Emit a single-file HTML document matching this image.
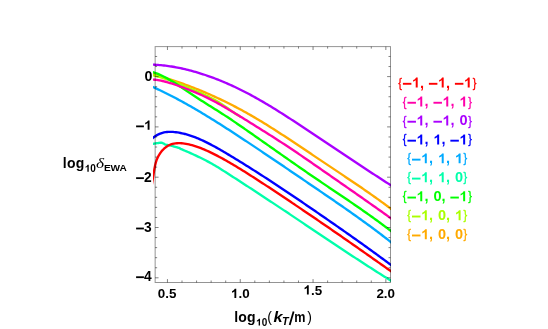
<!DOCTYPE html>
<html><head><meta charset="utf-8"><title>plot</title>
<style>
html,body{margin:0;padding:0;background:#fff;}
body{width:548px;height:329px;overflow:hidden;}
svg{display:block;}
text{font-family:"Liberation Sans",sans-serif;font-weight:bold;fill:#000;}
.r{font-weight:normal;}
.bi{font-style:italic;}
.it{font-family:"Liberation Serif",serif;font-style:italic;font-weight:normal;}
</style></head><body>
<svg width="548" height="329" viewBox="0 0 548 329">
<rect width="548" height="329" fill="#fff"/>
<defs><clipPath id="cp"><rect x="153.10" y="40" width="237.90" height="250"/></clipPath></defs>
<g clip-path="url(#cp)" fill="none" stroke-width="2.35" stroke-linejoin="round">
<path d="M150.50 73.07L152.00 73.54L153.50 74.00L155.00 74.47L156.50 74.94L158.00 75.41L159.50 75.88L161.00 76.36L162.50 76.84L164.00 77.32L165.50 77.81L167.00 78.29L168.50 78.78L170.00 79.28L171.50 79.78L173.00 80.28L174.50 80.79L176.00 81.30L177.50 81.82L179.00 82.34L180.50 82.87L182.00 83.41L183.50 83.95L185.00 84.49L186.50 85.04L188.00 85.60L189.50 86.17L191.00 86.74L192.50 87.32L194.00 87.90L195.50 88.49L197.00 89.09L198.50 89.70L200.00 90.31L201.50 90.93L203.00 91.56L204.50 92.19L206.00 92.83L207.50 93.47L209.00 94.13L210.50 94.79L212.00 95.46L213.50 96.13L215.00 96.81L216.50 97.50L218.00 98.20L219.50 98.90L221.00 99.61L222.50 100.33L224.00 101.06L225.50 101.79L227.00 102.53L228.50 103.28L230.00 104.03L231.50 104.80L233.00 105.56L234.50 106.34L236.00 107.13L237.50 107.92L239.00 108.72L240.50 109.53L242.00 110.34L243.50 111.16L245.00 111.99L246.50 112.83L248.00 113.68L249.50 114.53L251.00 115.39L252.50 116.26L254.00 117.13L255.50 118.02L257.00 118.91L258.50 119.80L260.00 120.70L261.50 121.61L263.00 122.53L264.50 123.45L266.00 124.37L267.50 125.30L269.00 126.24L270.50 127.18L272.00 128.13L273.50 129.08L275.00 130.03L276.50 130.99L278.00 131.96L279.50 132.92L281.00 133.90L282.50 134.87L284.00 135.85L285.50 136.83L287.00 137.82L288.50 138.80L290.00 139.80L291.50 140.79L293.00 141.78L294.50 142.78L296.00 143.78L297.50 144.78L299.00 145.78L300.50 146.79L302.00 147.79L303.50 148.80L305.00 149.81L306.50 150.81L308.00 151.82L309.50 152.83L311.00 153.84L312.50 154.85L314.00 155.86L315.50 156.86L317.00 157.87L318.50 158.88L320.00 159.88L321.50 160.88L323.00 161.89L324.50 162.89L326.00 163.89L327.50 164.89L329.00 165.89L330.50 166.89L332.00 167.89L333.50 168.89L335.00 169.89L336.50 170.89L338.00 171.89L339.50 172.89L341.00 173.89L342.50 174.89L344.00 175.90L345.50 176.90L347.00 177.91L348.50 178.92L350.00 179.93L351.50 180.94L353.00 181.95L354.50 182.97L356.00 183.99L357.50 185.01L359.00 186.03L360.50 187.06L362.00 188.09L363.50 189.12L365.00 190.16L366.50 191.20L368.00 192.24L369.50 193.29L371.00 194.34L372.50 195.40L374.00 196.46L375.50 197.52L377.00 198.59L378.50 199.66L380.00 200.74L381.50 201.83L383.00 202.92L384.50 204.01L386.00 205.11L387.50 206.22L389.00 207.33L390.50 208.45L392.00 209.57" stroke="#ffaa00"/>
<path d="M150.50 74.79L152.00 75.08L153.50 75.40L155.00 75.75L156.50 76.12L158.00 76.51L159.50 76.93L161.00 77.37L162.50 77.83L164.00 78.30L165.50 78.79L167.00 79.30L168.50 79.82L170.00 80.36L171.50 80.90L173.00 81.46L174.50 82.02L176.00 82.59L177.50 83.18L179.00 83.78L180.50 84.40L182.00 85.04L183.50 85.71L185.00 86.40L186.50 87.08L188.00 87.74L189.50 88.38L191.00 88.99L192.50 89.59L194.00 90.20L195.50 90.81L197.00 91.43L198.50 92.06L200.00 92.71L201.50 93.37L203.00 94.05L204.50 94.74L206.00 95.45L207.50 96.18L209.00 96.93L210.50 97.69L212.00 98.48L213.50 99.30L215.00 100.13L216.50 100.99L218.00 101.88L219.50 102.79L221.00 103.73L222.50 104.71L224.00 105.71L225.50 106.73L227.00 107.77L228.50 108.82L230.00 109.86L231.50 110.91L233.00 111.94L234.50 112.95L236.00 113.94L237.50 114.90L239.00 115.84L240.50 116.76" stroke="#aaff00"/>
<path d="M150.50 71.57L152.00 71.94L153.50 72.36L155.00 72.84L156.50 73.37L158.00 73.95L159.50 74.58L161.00 75.25L162.50 75.97L164.00 76.72L165.50 77.51L167.00 78.33L168.50 79.18L170.00 80.06L171.50 80.95L173.00 81.87L174.50 82.81L176.00 83.76L177.50 84.72L179.00 85.69L180.50 86.67L182.00 87.66L183.50 88.66L185.00 89.66L186.50 90.67L188.00 91.68L189.50 92.69L191.00 93.70L192.50 94.70L194.00 95.71L195.50 96.71L197.00 97.70L198.50 98.69L200.00 99.67L201.50 100.64L203.00 101.61L204.50 102.56L206.00 103.51L207.50 104.46L209.00 105.40L210.50 106.34L212.00 107.27L213.50 108.21L215.00 109.15L216.50 110.09L218.00 111.04L219.50 111.99L221.00 112.94L222.50 113.91L224.00 114.88L225.50 115.86L227.00 116.84L228.50 117.83L230.00 118.83L231.50 119.84L233.00 120.85L234.50 121.87L236.00 122.89L237.50 123.92L239.00 124.95L240.50 125.98L242.00 127.02L243.50 128.06L245.00 129.10L246.50 130.14L248.00 131.19L249.50 132.24L251.00 133.28L252.50 134.33L254.00 135.38L255.50 136.43L257.00 137.48L258.50 138.54L260.00 139.59L261.50 140.64L263.00 141.70L264.50 142.75L266.00 143.80L267.50 144.86L269.00 145.91L270.50 146.97L272.00 148.02L273.50 149.08L275.00 150.14L276.50 151.19L278.00 152.24L279.50 153.30L281.00 154.35L282.50 155.41L284.00 156.46L285.50 157.51L287.00 158.56L288.50 159.61L290.00 160.66L291.50 161.71L293.00 162.76L294.50 163.80L296.00 164.85L297.50 165.89L299.00 166.93L300.50 167.98L302.00 169.01L303.50 170.05L305.00 171.09L306.50 172.12L308.00 173.16L309.50 174.19L311.00 175.21L312.50 176.24L314.00 177.27L315.50 178.29L317.00 179.31L318.50 180.33L320.00 181.34L321.50 182.36L323.00 183.37L324.50 184.38L326.00 185.39L327.50 186.40L329.00 187.42L330.50 188.42L332.00 189.43L333.50 190.44L335.00 191.45L336.50 192.46L338.00 193.47L339.50 194.49L341.00 195.50L342.50 196.51L344.00 197.53L345.50 198.54L347.00 199.56L348.50 200.58L350.00 201.60L351.50 202.63L353.00 203.65L354.50 204.68L356.00 205.72L357.50 206.75L359.00 207.79L360.50 208.83L362.00 209.88L363.50 210.92L365.00 211.98L366.50 213.04L368.00 214.10L369.50 215.16L371.00 216.23L372.50 217.31L374.00 218.39L375.50 219.48L377.00 220.57L378.50 221.66L380.00 222.77L381.50 223.88L383.00 224.99L384.50 226.11L386.00 227.24L387.50 228.38L389.00 229.52L390.50 230.67L392.00 231.82" stroke="#00ff00"/>
<path d="M150.50 144.30L151.00 144.21L151.50 144.13L152.00 144.04L152.50 143.95L153.00 143.87L153.50 143.78L154.00 143.70L154.50 143.61L155.00 143.52L155.50 143.44L156.00 143.36L156.50 143.28L157.00 143.20L157.50 143.12L158.00 143.05L158.50 142.98L159.00 142.91L159.50 142.85L160.00 142.78L160.50 142.72L161.00 142.70L161.50 142.75L162.00 142.85L162.50 143.00L163.00 143.23L163.50 143.50L164.00 143.79L164.50 144.11L165.00 144.35L165.50 144.52L166.00 144.66L166.50 144.78L167.00 144.89L167.50 144.99L168.00 145.10L168.50 145.21L169.00 145.30L169.50 145.40L170.00 145.49L170.50 145.59L171.00 145.69L171.50 145.80L172.00 145.93L172.50 146.07L173.00 146.22L173.50 146.37L174.00 146.53L174.50 146.68L175.00 146.83L175.50 146.97L176.00 147.10L176.50 147.23L177.00 147.37L177.50 147.50L178.00 147.65L178.50 147.80L179.00 147.97L179.50 148.15L180.00 148.34L180.50 148.85L182.00 149.46L183.50 150.09L185.00 150.73L186.50 151.38L188.00 152.04L189.50 152.70L191.00 153.37L192.50 154.04L194.00 154.72L195.50 155.41L197.00 156.11L198.50 156.82L200.00 157.54L201.50 158.27L203.00 159.02L204.50 159.78L206.00 160.55L207.50 161.34L209.00 162.15L210.50 162.97L212.00 163.81L213.50 164.68L215.00 165.56L216.50 166.45L218.00 167.36L219.50 168.29L221.00 169.22L222.50 170.17L224.00 171.12L225.50 172.08L227.00 173.04L228.50 174.00L230.00 174.97L231.50 175.94L233.00 176.90L234.50 177.87L236.00 178.84L237.50 179.81L239.00 180.78L240.50 181.76L242.00 182.73L243.50 183.71L245.00 184.68L246.50 185.66L248.00 186.63L249.50 187.61L251.00 188.59L252.50 189.57L254.00 190.55L255.50 191.53L257.00 192.52L258.50 193.50L260.00 194.48L261.50 195.47L263.00 196.46L264.50 197.44L266.00 198.43L267.50 199.42L269.00 200.41L270.50 201.40L272.00 202.39L273.50 203.38L275.00 204.38L276.50 205.37L278.00 206.37L279.50 207.36L281.00 208.36L282.50 209.36L284.00 210.36L285.50 211.35L287.00 212.35L288.50 213.35L290.00 214.36L291.50 215.36L293.00 216.36L294.50 217.37L296.00 218.37L297.50 219.37L299.00 220.38L300.50 221.38L302.00 222.39L303.50 223.40L305.00 224.40L306.50 225.41L308.00 226.41L309.50 227.42L311.00 228.43L312.50 229.43L314.00 230.44L315.50 231.45L317.00 232.45L318.50 233.46L320.00 234.46L321.50 235.47L323.00 236.47L324.50 237.48L326.00 238.48L327.50 239.49L329.00 240.49L330.50 241.49L332.00 242.49L333.50 243.49L335.00 244.49L336.50 245.49L338.00 246.49L339.50 247.48L341.00 248.48L342.50 249.47L344.00 250.47L345.50 251.46L347.00 252.45L348.50 253.44L350.00 254.43L351.50 255.42L353.00 256.40L354.50 257.38L356.00 258.37L357.50 259.35L359.00 260.33L360.50 261.30L362.00 262.28L363.50 263.25L365.00 264.22L366.50 265.19L368.00 266.16L369.50 267.13L371.00 268.09L372.50 269.05L374.00 270.01L375.50 270.97L377.00 271.92L378.50 272.87L380.00 273.82L381.50 274.77L383.00 275.72L384.50 276.66L386.00 277.60L387.50 278.54L389.00 279.47L390.50 280.40L392.00 281.33" stroke="#00ffaa"/>
<path d="M150.50 85.93L152.00 86.59L153.50 87.26L155.00 87.94L156.50 88.63L158.00 89.33L159.50 90.03L161.00 90.75L162.50 91.47L164.00 92.20L165.50 92.94L167.00 93.68L168.50 94.44L170.00 95.20L171.50 95.97L173.00 96.75L174.50 97.53L176.00 98.32L177.50 99.12L179.00 99.93L180.50 100.74L182.00 101.56L183.50 102.38L185.00 103.21L186.50 104.05L188.00 104.90L189.50 105.75L191.00 106.60L192.50 107.46L194.00 108.33L195.50 109.21L197.00 110.09L198.50 110.97L200.00 111.86L201.50 112.75L203.00 113.65L204.50 114.56L206.00 115.47L207.50 116.38L209.00 117.30L210.50 118.22L212.00 119.15L213.50 120.08L215.00 121.02L216.50 121.96L218.00 122.90L219.50 123.85L221.00 124.80L222.50 125.75L224.00 126.71L225.50 127.67L227.00 128.64L228.50 129.60L230.00 130.57L231.50 131.54L233.00 132.52L234.50 133.50L236.00 134.48L237.50 135.46L239.00 136.44L240.50 137.43L242.00 138.42L243.50 139.41L245.00 140.40L246.50 141.39L248.00 142.39L249.50 143.38L251.00 144.38L252.50 145.38L254.00 146.38L255.50 147.38L257.00 148.38L258.50 149.39L260.00 150.39L261.50 151.40L263.00 152.40L264.50 153.41L266.00 154.42L267.50 155.43L269.00 156.44L270.50 157.45L272.00 158.46L273.50 159.48L275.00 160.49L276.50 161.50L278.00 162.52L279.50 163.53L281.00 164.55L282.50 165.57L284.00 166.59L285.50 167.60L287.00 168.62L288.50 169.64L290.00 170.66L291.50 171.68L293.00 172.70L294.50 173.72L296.00 174.75L297.50 175.77L299.00 176.79L300.50 177.81L302.00 178.83L303.50 179.86L305.00 180.88L306.50 181.90L308.00 182.92L309.50 183.95L311.00 184.97L312.50 185.99L314.00 187.01L315.50 188.04L317.00 189.06L318.50 190.08L320.00 191.10L321.50 192.13L323.00 193.15L324.50 194.18L326.00 195.20L327.50 196.23L329.00 197.25L330.50 198.28L332.00 199.31L333.50 200.34L335.00 201.37L336.50 202.41L338.00 203.44L339.50 204.48L341.00 205.52L342.50 206.56L344.00 207.61L345.50 208.65L347.00 209.70L348.50 210.75L350.00 211.81L351.50 212.87L353.00 213.93L354.50 214.99L356.00 216.06L357.50 217.13L359.00 218.20L360.50 219.28L362.00 220.36L363.50 221.44L365.00 222.53L366.50 223.63L368.00 224.72L369.50 225.82L371.00 226.93L372.50 228.04L374.00 229.16L375.50 230.28L377.00 231.40L378.50 232.54L380.00 233.67L381.50 234.81L383.00 235.96L384.50 237.11L386.00 238.27L387.50 239.44L389.00 240.61L390.50 241.78L392.00 242.97" stroke="#00aaff"/>
<path d="M150.50 140.08L152.00 138.68L153.50 137.44L155.00 136.35L156.50 135.40L158.00 134.58L159.50 133.88L161.00 133.30L162.50 132.83L164.00 132.46L165.50 132.19L167.00 132.00L168.50 131.89L170.00 131.85L171.50 131.87L173.00 131.95L174.50 132.08L176.00 132.25L177.50 132.45L179.00 132.69L180.50 132.97L182.00 133.28L183.50 133.62L185.00 133.99L186.50 134.40L188.00 134.84L189.50 135.30L191.00 135.80L192.50 136.32L194.00 136.87L195.50 137.45L197.00 138.04L198.50 138.67L200.00 139.31L201.50 139.98L203.00 140.67L204.50 141.38L206.00 142.10L207.50 142.85L209.00 143.61L210.50 144.39L212.00 145.18L213.50 145.99L215.00 146.81L216.50 147.64L218.00 148.48L219.50 149.34L221.00 150.20L222.50 151.07L224.00 151.95L225.50 152.83L227.00 153.73L228.50 154.62L230.00 155.52L231.50 156.42L233.00 157.33L234.50 158.24L236.00 159.15L237.50 160.07L239.00 160.99L240.50 161.91L242.00 162.84L243.50 163.77L245.00 164.70L246.50 165.64L248.00 166.58L249.50 167.52L251.00 168.47L252.50 169.41L254.00 170.37L255.50 171.32L257.00 172.28L258.50 173.24L260.00 174.20L261.50 175.17L263.00 176.13L264.50 177.11L266.00 178.08L267.50 179.06L269.00 180.03L270.50 181.01L272.00 182.00L273.50 182.98L275.00 183.97L276.50 184.96L278.00 185.95L279.50 186.95L281.00 187.94L282.50 188.94L284.00 189.94L285.50 190.95L287.00 191.95L288.50 192.96L290.00 193.96L291.50 194.97L293.00 195.99L294.50 197.00L296.00 198.01L297.50 199.03L299.00 200.05L300.50 201.07L302.00 202.09L303.50 203.11L305.00 204.13L306.50 205.16L308.00 206.18L309.50 207.21L311.00 208.24L312.50 209.27L314.00 210.30L315.50 211.33L317.00 212.36L318.50 213.39L320.00 214.43L321.50 215.46L323.00 216.50L324.50 217.53L326.00 218.57L327.50 219.61L329.00 220.65L330.50 221.69L332.00 222.73L333.50 223.77L335.00 224.81L336.50 225.85L338.00 226.90L339.50 227.94L341.00 228.99L342.50 230.04L344.00 231.09L345.50 232.14L347.00 233.19L348.50 234.25L350.00 235.30L351.50 236.36L353.00 237.42L354.50 238.48L356.00 239.54L357.50 240.61L359.00 241.67L360.50 242.74L362.00 243.81L363.50 244.88L365.00 245.96L366.50 247.04L368.00 248.11L369.50 249.20L371.00 250.28L372.50 251.36L374.00 252.45L375.50 253.54L377.00 254.64L378.50 255.73L380.00 256.83L381.50 257.93L383.00 259.04L384.50 260.14L386.00 261.25L387.50 262.36L389.00 263.48L390.50 264.60L392.00 265.72" stroke="#0000ff"/>
<path d="M150.50 64.55L152.00 64.60L153.50 64.66L155.00 64.74L156.50 64.83L158.00 64.94L159.50 65.06L161.00 65.19L162.50 65.34L164.00 65.51L165.50 65.68L167.00 65.87L168.50 66.08L170.00 66.30L171.50 66.53L173.00 66.78L174.50 67.03L176.00 67.31L177.50 67.59L179.00 67.89L180.50 68.20L182.00 68.52L183.50 68.85L185.00 69.20L186.50 69.56L188.00 69.93L189.50 70.31L191.00 70.70L192.50 71.11L194.00 71.53L195.50 71.95L197.00 72.39L198.50 72.84L200.00 73.31L201.50 73.78L203.00 74.26L204.50 74.75L206.00 75.26L207.50 75.77L209.00 76.30L210.50 76.83L212.00 77.38L213.50 77.93L215.00 78.50L216.50 79.08L218.00 79.66L219.50 80.26L221.00 80.87L222.50 81.49L224.00 82.12L225.50 82.75L227.00 83.40L228.50 84.06L230.00 84.73L231.50 85.41L233.00 86.10L234.50 86.80L236.00 87.51L237.50 88.22L239.00 88.95L240.50 89.69L242.00 90.44L243.50 91.20L245.00 91.97L246.50 92.74L248.00 93.53L249.50 94.33L251.00 95.13L252.50 95.95L254.00 96.77L255.50 97.60L257.00 98.44L258.50 99.29L260.00 100.15L261.50 101.02L263.00 101.89L264.50 102.77L266.00 103.66L267.50 104.55L269.00 105.45L270.50 106.36L272.00 107.27L273.50 108.19L275.00 109.11L276.50 110.05L278.00 110.98L279.50 111.92L281.00 112.87L282.50 113.82L284.00 114.77L285.50 115.73L287.00 116.70L288.50 117.66L290.00 118.63L291.50 119.61L293.00 120.59L294.50 121.57L296.00 122.55L297.50 123.53L299.00 124.52L300.50 125.51L302.00 126.50L303.50 127.50L305.00 128.49L306.50 129.49L308.00 130.48L309.50 131.48L311.00 132.48L312.50 133.48L314.00 134.48L315.50 135.48L317.00 136.48L318.50 137.48L320.00 138.48L321.50 139.48L323.00 140.48L324.50 141.49L326.00 142.49L327.50 143.49L329.00 144.50L330.50 145.50L332.00 146.50L333.50 147.51L335.00 148.51L336.50 149.51L338.00 150.52L339.50 151.52L341.00 152.52L342.50 153.52L344.00 154.53L345.50 155.53L347.00 156.53L348.50 157.53L350.00 158.53L351.50 159.53L353.00 160.52L354.50 161.52L356.00 162.52L357.50 163.51L359.00 164.51L360.50 165.50L362.00 166.49L363.50 167.48L365.00 168.47L366.50 169.46L368.00 170.45L369.50 171.43L371.00 172.42L372.50 173.40L374.00 174.38L375.50 175.36L377.00 176.34L378.50 177.32L380.00 178.29L381.50 179.26L383.00 180.23L384.50 181.20L386.00 182.17L387.50 183.13L389.00 184.10L390.50 185.06L392.00 186.02" stroke="#aa00ff"/>
<path d="M150.50 79.51L152.00 79.55L153.50 79.64L155.00 79.77L156.50 79.94L158.00 80.16L159.50 80.41L161.00 80.69L162.50 81.01L164.00 81.36L165.50 81.74L167.00 82.14L168.50 82.57L170.00 83.02L171.50 83.49L173.00 83.97L174.50 84.48L176.00 84.99L177.50 85.51L179.00 86.05L180.50 86.59L182.00 87.14L183.50 87.71L185.00 88.27L186.50 88.85L188.00 89.43L189.50 90.01L191.00 90.60L192.50 91.20L194.00 91.81L195.50 92.43L197.00 93.07L198.50 93.71L200.00 94.37L201.50 95.05L203.00 95.74L204.50 96.45L206.00 97.17L207.50 97.90L209.00 98.65L210.50 99.41L212.00 100.19L213.50 100.98L215.00 101.77L216.50 102.58L218.00 103.40L219.50 104.23L221.00 105.07L222.50 105.92L224.00 106.78L225.50 107.64L227.00 108.52L228.50 109.40L230.00 110.28L231.50 111.18L233.00 112.08L234.50 112.98L236.00 113.89L237.50 114.80L239.00 115.72L240.50 116.64L242.00 117.57L243.50 118.49L245.00 119.42L246.50 120.35L248.00 121.28L249.50 122.21L251.00 123.14L252.50 124.08L254.00 125.01L255.50 125.94L257.00 126.88L258.50 127.82L260.00 128.76L261.50 129.70L263.00 130.64L264.50 131.58L266.00 132.53L267.50 133.48L269.00 134.43L270.50 135.38L272.00 136.34L273.50 137.30L275.00 138.26L276.50 139.22L278.00 140.19L279.50 141.16L281.00 142.13L282.50 143.11L284.00 144.09L285.50 145.07L287.00 146.06L288.50 147.05L290.00 148.05L291.50 149.05L293.00 150.05L294.50 151.06L296.00 152.07L297.50 153.08L299.00 154.10L300.50 155.12L302.00 156.14L303.50 157.17L305.00 158.20L306.50 159.23L308.00 160.27L309.50 161.30L311.00 162.34L312.50 163.38L314.00 164.43L315.50 165.47L317.00 166.51L318.50 167.55L320.00 168.59L321.50 169.63L323.00 170.67L324.50 171.71L326.00 172.75L327.50 173.79L329.00 174.83L330.50 175.88L332.00 176.92L333.50 177.96L335.00 179.00L336.50 180.04L338.00 181.08L339.50 182.13L341.00 183.17L342.50 184.21L344.00 185.26L345.50 186.30L347.00 187.35L348.50 188.39L350.00 189.44L351.50 190.49L353.00 191.53L354.50 192.58L356.00 193.63L357.50 194.68L359.00 195.73L360.50 196.78L362.00 197.83L363.50 198.88L365.00 199.94L366.50 200.99L368.00 202.04L369.50 203.10L371.00 204.16L372.50 205.21L374.00 206.27L375.50 207.33L377.00 208.39L378.50 209.46L380.00 210.52L381.50 211.58L383.00 212.65L384.50 213.72L386.00 214.78L387.50 215.85L389.00 216.93L390.50 218.00L392.00 219.07" stroke="#ff00aa"/>
<path d="M151.40 187.63L151.60 186.23L151.80 184.96L152.00 183.74L152.20 182.55L152.40 181.37L152.60 180.17L152.80 178.96L153.00 177.72L153.20 176.47L153.40 175.20L153.60 173.92L153.80 172.64L154.00 171.40L154.20 170.19L154.40 169.03L154.60 167.93L154.80 166.90L155.00 165.92L155.20 165.02L155.40 164.18L155.60 163.40L155.80 162.67L156.00 161.99L156.20 161.35L156.40 160.75L156.60 160.18L156.80 159.64L157.00 159.13L157.20 158.65L157.40 158.18L157.60 157.74L157.80 157.32L158.00 156.91L158.20 156.52L158.40 156.14L158.60 155.78L158.80 155.42L159.00 155.08L159.20 154.75L159.40 154.42L159.60 154.11L159.80 153.80L160.00 153.50L160.20 153.21L160.40 152.92L160.60 152.64L160.80 152.36L161.00 152.09L161.20 151.83L161.40 151.57L161.60 151.32L161.80 151.07L162.00 150.83L162.20 150.60L162.40 150.37L162.60 150.15L162.80 149.93L163.00 149.71L163.20 149.51L163.40 149.30L163.60 149.10L163.80 148.91L164.00 148.72L164.20 148.53L164.40 148.35L164.60 148.18L164.80 148.01L165.00 147.84L166.50 146.71L168.00 145.78L169.50 145.03L171.00 144.43L172.50 143.97L174.00 143.63L175.50 143.39L177.00 143.24L178.50 143.17L180.00 143.18L181.50 143.26L183.00 143.39L184.50 143.58L186.00 143.82L187.50 144.10L189.00 144.42L190.50 144.78L192.00 145.18L193.50 145.61L195.00 146.07L196.50 146.57L198.00 147.09L199.50 147.64L201.00 148.22L202.50 148.82L204.00 149.44L205.50 150.08L207.00 150.75L208.50 151.43L210.00 152.13L211.50 152.85L213.00 153.59L214.50 154.34L216.00 155.11L217.50 155.89L219.00 156.68L220.50 157.49L222.00 158.30L223.50 159.13L225.00 159.97L226.50 160.82L228.00 161.68L229.50 162.55L231.00 163.42L232.50 164.31L234.00 165.20L235.50 166.10L237.00 167.00L238.50 167.91L240.00 168.83L241.50 169.76L243.00 170.69L244.50 171.62L246.00 172.56L247.50 173.51L249.00 174.46L250.50 175.41L252.00 176.37L253.50 177.33L255.00 178.29L256.50 179.26L258.00 180.23L259.50 181.20L261.00 182.18L262.50 183.16L264.00 184.14L265.50 185.13L267.00 186.11L268.50 187.10L270.00 188.09L271.50 189.08L273.00 190.08L274.50 191.07L276.00 192.07L277.50 193.06L279.00 194.06L280.50 195.06L282.00 196.07L283.50 197.07L285.00 198.07L286.50 199.07L288.00 200.08L289.50 201.08L291.00 202.09L292.50 203.10L294.00 204.10L295.50 205.11L297.00 206.12L298.50 207.13L300.00 208.14L301.50 209.15L303.00 210.17L304.50 211.18L306.00 212.20L307.50 213.21L309.00 214.23L310.50 215.25L312.00 216.27L313.50 217.29L315.00 218.31L316.50 219.33L318.00 220.36L319.50 221.38L321.00 222.41L322.50 223.44L324.00 224.47L325.50 225.49L327.00 226.52L328.50 227.56L330.00 228.59L331.50 229.62L333.00 230.66L334.50 231.69L336.00 232.73L337.50 233.77L339.00 234.80L340.50 235.84L342.00 236.88L343.50 237.92L345.00 238.97L346.50 240.01L348.00 241.05L349.50 242.10L351.00 243.14L352.50 244.19L354.00 245.24L355.50 246.29L357.00 247.33L358.50 248.38L360.00 249.43L361.50 250.49L363.00 251.54L364.50 252.59L366.00 253.64L367.50 254.70L369.00 255.75L370.50 256.81L372.00 257.86L373.50 258.92L375.00 259.98L376.50 261.03L378.00 262.09L379.50 263.15L381.00 264.21L382.50 265.27L384.00 266.33L385.50 267.39L387.00 268.45L388.50 269.52L390.00 270.58L391.50 271.64L393.00 272.71" stroke="#ff0000"/>
</g>
<g fill="none" stroke="#000" stroke-opacity="0.42" stroke-width="1">
<rect x="155.15" y="46.60" width="235.35" height="235.90"/>
</g>
<g fill="none" stroke="#000" stroke-opacity="0.55" stroke-width="0.9">
<path d="M167.45 282.50 L167.45 279.10M167.45 46.60 L167.45 50.00M182.01 282.50 L182.01 280.50M182.01 46.60 L182.01 48.60M196.57 282.50 L196.57 280.50M196.57 46.60 L196.57 48.60M211.13 282.50 L211.13 280.50M211.13 46.60 L211.13 48.60M225.69 282.50 L225.69 280.50M225.69 46.60 L225.69 48.60M240.25 282.50 L240.25 279.10M240.25 46.60 L240.25 50.00M254.81 282.50 L254.81 280.50M254.81 46.60 L254.81 48.60M269.37 282.50 L269.37 280.50M269.37 46.60 L269.37 48.60M283.93 282.50 L283.93 280.50M283.93 46.60 L283.93 48.60M298.49 282.50 L298.49 280.50M298.49 46.60 L298.49 48.60M313.05 282.50 L313.05 279.10M313.05 46.60 L313.05 50.00M327.61 282.50 L327.61 280.50M327.61 46.60 L327.61 48.60M342.17 282.50 L342.17 280.50M342.17 46.60 L342.17 48.60M356.73 282.50 L356.73 280.50M356.73 46.60 L356.73 48.60M371.29 282.50 L371.29 280.50M371.29 46.60 L371.29 48.60M385.85 282.50 L385.85 279.10M385.85 46.60 L385.85 50.00M155.15 277.80 L158.55 277.80M390.50 277.80 L387.10 277.80M155.15 267.74 L157.15 267.74M390.50 267.74 L388.50 267.74M155.15 257.68 L157.15 257.68M390.50 257.68 L388.50 257.68M155.15 247.62 L157.15 247.62M390.50 247.62 L388.50 247.62M155.15 237.56 L157.15 237.56M390.50 237.56 L388.50 237.56M155.15 227.50 L158.55 227.50M390.50 227.50 L387.10 227.50M155.15 217.44 L157.15 217.44M390.50 217.44 L388.50 217.44M155.15 207.38 L157.15 207.38M390.50 207.38 L388.50 207.38M155.15 197.32 L157.15 197.32M390.50 197.32 L388.50 197.32M155.15 187.26 L157.15 187.26M390.50 187.26 L388.50 187.26M155.15 177.20 L158.55 177.20M390.50 177.20 L387.10 177.20M155.15 167.14 L157.15 167.14M390.50 167.14 L388.50 167.14M155.15 157.08 L157.15 157.08M390.50 157.08 L388.50 157.08M155.15 147.02 L157.15 147.02M390.50 147.02 L388.50 147.02M155.15 136.96 L157.15 136.96M390.50 136.96 L388.50 136.96M155.15 126.90 L158.55 126.90M390.50 126.90 L387.10 126.90M155.15 116.84 L157.15 116.84M390.50 116.84 L388.50 116.84M155.15 106.78 L157.15 106.78M390.50 106.78 L388.50 106.78M155.15 96.72 L157.15 96.72M390.50 96.72 L388.50 96.72M155.15 86.66 L157.15 86.66M390.50 86.66 L388.50 86.66M155.15 76.60 L158.55 76.60M390.50 76.60 L387.10 76.60M155.15 66.54 L157.15 66.54M390.50 66.54 L388.50 66.54M155.15 56.48 L157.15 56.48M390.50 56.48 L388.50 56.48"/>
</g>
<g style="will-change:transform">
<text x="144.39" y="81.20" font-size="14.2">0</text>
<path d="M0.393 0L0.256 0L0.256 0.517C0.206 0.470 0.147 0.435 0.079 0.413L0.079 0.537C0.115 0.549 0.154 0.571 0.196 0.603C0.238 0.636 0.267 0.674 0.282 0.718L0.393 0.718Z" transform="translate(144.10 129.87) scale(13.800 -13.179)"/><rect x="136.1" y="125.47" width="7.8" height="1.8"/>
<text x="144.10" y="181.65" font-size="13.8">2</text><rect x="136.1" y="177.25" width="7.8" height="1.8"/>
<text x="144.10" y="232.00" font-size="13.8">3</text><rect x="136.1" y="227.60" width="7.8" height="1.8"/>
<text x="144.10" y="280.70" font-size="13.8">4</text><rect x="136.1" y="276.30" width="7.8" height="1.8"/>
<text x="157.79" y="298.00" font-size="13.4">0</text><text x="165.24" y="298.00" font-size="13.4">.</text><text x="168.96" y="298.00" font-size="13.4">5</text>
<path d="M0.393 0L0.256 0L0.256 0.517C0.206 0.470 0.147 0.435 0.079 0.413L0.079 0.537C0.115 0.549 0.154 0.571 0.196 0.603C0.238 0.636 0.267 0.674 0.282 0.718L0.393 0.718Z" transform="translate(230.99 298.00) scale(13.400 -12.797)"/><text x="238.44" y="298.00" font-size="13.4">.</text><text x="242.16" y="298.00" font-size="13.4">0</text>
<path d="M0.393 0L0.256 0L0.256 0.517C0.206 0.470 0.147 0.435 0.079 0.413L0.079 0.537C0.115 0.549 0.154 0.571 0.196 0.603C0.238 0.636 0.267 0.674 0.282 0.718L0.393 0.718Z" transform="translate(303.49 294.50) scale(13.400 -12.797)"/><text x="310.94" y="294.50" font-size="13.4">.</text><text x="314.66" y="294.50" font-size="13.4">5</text>
<text x="376.39" y="298.00" font-size="13.4">2</text><text x="383.84" y="298.00" font-size="13.4">.</text><text x="387.56" y="298.00" font-size="13.4">0</text>
<text y="167.70" font-size="14"><tspan x="62.82" letter-spacing="0.25">log</tspan></text>
<path d="M0.393 0L0.256 0L0.256 0.517C0.206 0.470 0.147 0.435 0.079 0.413L0.079 0.537C0.115 0.549 0.154 0.571 0.196 0.603C0.238 0.636 0.267 0.674 0.282 0.718L0.393 0.718Z" transform="translate(84.80 171.65) scale(10.000 -9.550)"/><text x="90.36" y="171.65" font-size="10">0</text>
<text transform="translate(96.0 168.15) scale(1.13 1)" font-size="15.3" class="it">δ</text>
<text x="103.9" y="170.70" font-size="9.5" textLength="23.0" lengthAdjust="spacingAndGlyphs">EWA</text>
<text y="321.65" font-size="14"><tspan x="234.15" letter-spacing="0.25">log</tspan></text>
<path d="M0.393 0L0.256 0L0.256 0.517C0.206 0.470 0.147 0.435 0.079 0.413L0.079 0.537C0.115 0.549 0.154 0.571 0.196 0.603C0.238 0.636 0.267 0.674 0.282 0.718L0.393 0.718Z" transform="translate(256.10 325.60) scale(10.000 -9.550)"/><text x="261.66" y="325.60" font-size="10">0</text>
<text x="267.2" y="321.65" font-size="14" class="r">(</text>
<text x="273.5" y="321.65" font-size="14" class="bi" textLength="9.1" lengthAdjust="spacingAndGlyphs">k</text>
<text x="281.9" y="324.90" font-size="10.8" class="bi">T</text>
<path d="M289.7 324.9L293.6 311.6" stroke="#000" stroke-width="1.8" fill="none"/>
<text x="294.3" y="321.65" font-size="14" textLength="11.2" lengthAdjust="spacingAndGlyphs">m</text>
<text x="307.37" y="321.65" font-size="14" class="r">)</text>
<g fill="#ff0000"><text transform="translate(398.20 86.60) scale(0.85 1)" font-size="13" class="r" style="fill:#ff0000;stroke:#ff0000;stroke-width:0.35">{</text><rect x="402.90" y="82.85" width="8.5" height="1.9"/><path d="M0.393 0L0.256 0L0.256 0.517C0.206 0.470 0.147 0.435 0.079 0.413L0.079 0.537C0.115 0.549 0.154 0.571 0.196 0.603C0.238 0.636 0.267 0.674 0.282 0.718L0.393 0.718Z" transform="translate(412.00 87.50) scale(14.500 -13.848)" fill="#ff0000"/><text x="420.00" y="87.50" font-size="14.5" style="fill:#ff0000">,</text><rect x="428.90" y="82.85" width="8.5" height="1.9"/><path d="M0.393 0L0.256 0L0.256 0.517C0.206 0.470 0.147 0.435 0.079 0.413L0.079 0.537C0.115 0.549 0.154 0.571 0.196 0.603C0.238 0.636 0.267 0.674 0.282 0.718L0.393 0.718Z" transform="translate(438.00 87.50) scale(14.500 -13.848)" fill="#ff0000"/><text x="446.00" y="87.50" font-size="14.5" style="fill:#ff0000">,</text><rect x="454.90" y="82.85" width="8.5" height="1.9"/><path d="M0.393 0L0.256 0L0.256 0.517C0.206 0.470 0.147 0.435 0.079 0.413L0.079 0.537C0.115 0.549 0.154 0.571 0.196 0.603C0.238 0.636 0.267 0.674 0.282 0.718L0.393 0.718Z" transform="translate(464.00 87.50) scale(14.500 -13.848)" fill="#ff0000"/><text transform="translate(472.70 86.60) scale(0.85 1)" font-size="13" class="r" style="fill:#ff0000;stroke:#ff0000;stroke-width:0.35">}</text></g>
<g fill="#ff00aa"><text transform="translate(402.75 105.56) scale(0.85 1)" font-size="13" class="r" style="fill:#ff00aa;stroke:#ff00aa;stroke-width:0.35">{</text><rect x="407.45" y="101.81" width="8.5" height="1.9"/><path d="M0.393 0L0.256 0L0.256 0.517C0.206 0.470 0.147 0.435 0.079 0.413L0.079 0.537C0.115 0.549 0.154 0.571 0.196 0.603C0.238 0.636 0.267 0.674 0.282 0.718L0.393 0.718Z" transform="translate(416.55 106.46) scale(14.500 -13.848)" fill="#ff00aa"/><text x="424.55" y="106.46" font-size="14.5" style="fill:#ff00aa">,</text><rect x="433.45" y="101.81" width="8.5" height="1.9"/><path d="M0.393 0L0.256 0L0.256 0.517C0.206 0.470 0.147 0.435 0.079 0.413L0.079 0.537C0.115 0.549 0.154 0.571 0.196 0.603C0.238 0.636 0.267 0.674 0.282 0.718L0.393 0.718Z" transform="translate(442.55 106.46) scale(14.500 -13.848)" fill="#ff00aa"/><text x="450.55" y="106.46" font-size="14.5" style="fill:#ff00aa">,</text><path d="M0.393 0L0.256 0L0.256 0.517C0.206 0.470 0.147 0.435 0.079 0.413L0.079 0.537C0.115 0.549 0.154 0.571 0.196 0.603C0.238 0.636 0.267 0.674 0.282 0.718L0.393 0.718Z" transform="translate(459.45 106.46) scale(14.500 -13.848)" fill="#ff00aa"/><text transform="translate(468.15 105.56) scale(0.85 1)" font-size="13" class="r" style="fill:#ff00aa;stroke:#ff00aa;stroke-width:0.35">}</text></g>
<g fill="#aa00ff"><text transform="translate(402.75 124.52) scale(0.85 1)" font-size="13" class="r" style="fill:#aa00ff;stroke:#aa00ff;stroke-width:0.35">{</text><rect x="407.45" y="120.77" width="8.5" height="1.9"/><path d="M0.393 0L0.256 0L0.256 0.517C0.206 0.470 0.147 0.435 0.079 0.413L0.079 0.537C0.115 0.549 0.154 0.571 0.196 0.603C0.238 0.636 0.267 0.674 0.282 0.718L0.393 0.718Z" transform="translate(416.55 125.42) scale(14.500 -13.848)" fill="#aa00ff"/><text x="424.55" y="125.42" font-size="14.5" style="fill:#aa00ff">,</text><rect x="433.45" y="120.77" width="8.5" height="1.9"/><path d="M0.393 0L0.256 0L0.256 0.517C0.206 0.470 0.147 0.435 0.079 0.413L0.079 0.537C0.115 0.549 0.154 0.571 0.196 0.603C0.238 0.636 0.267 0.674 0.282 0.718L0.393 0.718Z" transform="translate(442.55 125.42) scale(14.500 -13.848)" fill="#aa00ff"/><text x="450.55" y="125.42" font-size="14.5" style="fill:#aa00ff">,</text><text x="459.45" y="125.42" font-size="14.5" style="fill:#aa00ff">0</text><text transform="translate(468.15 124.52) scale(0.85 1)" font-size="13" class="r" style="fill:#aa00ff;stroke:#aa00ff;stroke-width:0.35">}</text></g>
<g fill="#0000ff"><text transform="translate(402.75 143.48) scale(0.85 1)" font-size="13" class="r" style="fill:#0000ff;stroke:#0000ff;stroke-width:0.35">{</text><rect x="407.45" y="139.73" width="8.5" height="1.9"/><path d="M0.393 0L0.256 0L0.256 0.517C0.206 0.470 0.147 0.435 0.079 0.413L0.079 0.537C0.115 0.549 0.154 0.571 0.196 0.603C0.238 0.636 0.267 0.674 0.282 0.718L0.393 0.718Z" transform="translate(416.55 144.38) scale(14.500 -13.848)" fill="#0000ff"/><text x="424.55" y="144.38" font-size="14.5" style="fill:#0000ff">,</text><path d="M0.393 0L0.256 0L0.256 0.517C0.206 0.470 0.147 0.435 0.079 0.413L0.079 0.537C0.115 0.549 0.154 0.571 0.196 0.603C0.238 0.636 0.267 0.674 0.282 0.718L0.393 0.718Z" transform="translate(433.45 144.38) scale(14.500 -13.848)" fill="#0000ff"/><text x="441.45" y="144.38" font-size="14.5" style="fill:#0000ff">,</text><rect x="450.35" y="139.73" width="8.5" height="1.9"/><path d="M0.393 0L0.256 0L0.256 0.517C0.206 0.470 0.147 0.435 0.079 0.413L0.079 0.537C0.115 0.549 0.154 0.571 0.196 0.603C0.238 0.636 0.267 0.674 0.282 0.718L0.393 0.718Z" transform="translate(459.45 144.38) scale(14.500 -13.848)" fill="#0000ff"/><text transform="translate(468.15 143.48) scale(0.85 1)" font-size="13" class="r" style="fill:#0000ff;stroke:#0000ff;stroke-width:0.35">}</text></g>
<g fill="#00aaff"><text transform="translate(407.30 162.44) scale(0.85 1)" font-size="13" class="r" style="fill:#00aaff;stroke:#00aaff;stroke-width:0.35">{</text><rect x="412.00" y="158.69" width="8.5" height="1.9"/><path d="M0.393 0L0.256 0L0.256 0.517C0.206 0.470 0.147 0.435 0.079 0.413L0.079 0.537C0.115 0.549 0.154 0.571 0.196 0.603C0.238 0.636 0.267 0.674 0.282 0.718L0.393 0.718Z" transform="translate(421.10 163.34) scale(14.500 -13.848)" fill="#00aaff"/><text x="429.10" y="163.34" font-size="14.5" style="fill:#00aaff">,</text><path d="M0.393 0L0.256 0L0.256 0.517C0.206 0.470 0.147 0.435 0.079 0.413L0.079 0.537C0.115 0.549 0.154 0.571 0.196 0.603C0.238 0.636 0.267 0.674 0.282 0.718L0.393 0.718Z" transform="translate(438.00 163.34) scale(14.500 -13.848)" fill="#00aaff"/><text x="446.00" y="163.34" font-size="14.5" style="fill:#00aaff">,</text><path d="M0.393 0L0.256 0L0.256 0.517C0.206 0.470 0.147 0.435 0.079 0.413L0.079 0.537C0.115 0.549 0.154 0.571 0.196 0.603C0.238 0.636 0.267 0.674 0.282 0.718L0.393 0.718Z" transform="translate(454.90 163.34) scale(14.500 -13.848)" fill="#00aaff"/><text transform="translate(463.60 162.44) scale(0.85 1)" font-size="13" class="r" style="fill:#00aaff;stroke:#00aaff;stroke-width:0.35">}</text></g>
<g fill="#00ffaa"><text transform="translate(407.30 181.40) scale(0.85 1)" font-size="13" class="r" style="fill:#00ffaa;stroke:#00ffaa;stroke-width:0.35">{</text><rect x="412.00" y="177.65" width="8.5" height="1.9"/><path d="M0.393 0L0.256 0L0.256 0.517C0.206 0.470 0.147 0.435 0.079 0.413L0.079 0.537C0.115 0.549 0.154 0.571 0.196 0.603C0.238 0.636 0.267 0.674 0.282 0.718L0.393 0.718Z" transform="translate(421.10 182.30) scale(14.500 -13.848)" fill="#00ffaa"/><text x="429.10" y="182.30" font-size="14.5" style="fill:#00ffaa">,</text><path d="M0.393 0L0.256 0L0.256 0.517C0.206 0.470 0.147 0.435 0.079 0.413L0.079 0.537C0.115 0.549 0.154 0.571 0.196 0.603C0.238 0.636 0.267 0.674 0.282 0.718L0.393 0.718Z" transform="translate(438.00 182.30) scale(14.500 -13.848)" fill="#00ffaa"/><text x="446.00" y="182.30" font-size="14.5" style="fill:#00ffaa">,</text><text x="454.90" y="182.30" font-size="14.5" style="fill:#00ffaa">0</text><text transform="translate(463.60 181.40) scale(0.85 1)" font-size="13" class="r" style="fill:#00ffaa;stroke:#00ffaa;stroke-width:0.35">}</text></g>
<g fill="#00ff00"><text transform="translate(402.75 200.36) scale(0.85 1)" font-size="13" class="r" style="fill:#00ff00;stroke:#00ff00;stroke-width:0.35">{</text><rect x="407.45" y="196.61" width="8.5" height="1.9"/><path d="M0.393 0L0.256 0L0.256 0.517C0.206 0.470 0.147 0.435 0.079 0.413L0.079 0.537C0.115 0.549 0.154 0.571 0.196 0.603C0.238 0.636 0.267 0.674 0.282 0.718L0.393 0.718Z" transform="translate(416.55 201.26) scale(14.500 -13.848)" fill="#00ff00"/><text x="424.55" y="201.26" font-size="14.5" style="fill:#00ff00">,</text><text x="433.45" y="201.26" font-size="14.5" style="fill:#00ff00">0</text><text x="441.45" y="201.26" font-size="14.5" style="fill:#00ff00">,</text><rect x="450.35" y="196.61" width="8.5" height="1.9"/><path d="M0.393 0L0.256 0L0.256 0.517C0.206 0.470 0.147 0.435 0.079 0.413L0.079 0.537C0.115 0.549 0.154 0.571 0.196 0.603C0.238 0.636 0.267 0.674 0.282 0.718L0.393 0.718Z" transform="translate(459.45 201.26) scale(14.500 -13.848)" fill="#00ff00"/><text transform="translate(468.15 200.36) scale(0.85 1)" font-size="13" class="r" style="fill:#00ff00;stroke:#00ff00;stroke-width:0.35">}</text></g>
<g fill="#aaff00"><text transform="translate(407.30 219.32) scale(0.85 1)" font-size="13" class="r" style="fill:#aaff00;stroke:#aaff00;stroke-width:0.35">{</text><rect x="412.00" y="215.57" width="8.5" height="1.9"/><path d="M0.393 0L0.256 0L0.256 0.517C0.206 0.470 0.147 0.435 0.079 0.413L0.079 0.537C0.115 0.549 0.154 0.571 0.196 0.603C0.238 0.636 0.267 0.674 0.282 0.718L0.393 0.718Z" transform="translate(421.10 220.22) scale(14.500 -13.848)" fill="#aaff00"/><text x="429.10" y="220.22" font-size="14.5" style="fill:#aaff00">,</text><text x="438.00" y="220.22" font-size="14.5" style="fill:#aaff00">0</text><text x="446.00" y="220.22" font-size="14.5" style="fill:#aaff00">,</text><path d="M0.393 0L0.256 0L0.256 0.517C0.206 0.470 0.147 0.435 0.079 0.413L0.079 0.537C0.115 0.549 0.154 0.571 0.196 0.603C0.238 0.636 0.267 0.674 0.282 0.718L0.393 0.718Z" transform="translate(454.90 220.22) scale(14.500 -13.848)" fill="#aaff00"/><text transform="translate(463.60 219.32) scale(0.85 1)" font-size="13" class="r" style="fill:#aaff00;stroke:#aaff00;stroke-width:0.35">}</text></g>
<g fill="#ffaa00"><text transform="translate(407.30 238.28) scale(0.85 1)" font-size="13" class="r" style="fill:#ffaa00;stroke:#ffaa00;stroke-width:0.35">{</text><rect x="412.00" y="234.53" width="8.5" height="1.9"/><path d="M0.393 0L0.256 0L0.256 0.517C0.206 0.470 0.147 0.435 0.079 0.413L0.079 0.537C0.115 0.549 0.154 0.571 0.196 0.603C0.238 0.636 0.267 0.674 0.282 0.718L0.393 0.718Z" transform="translate(421.10 239.18) scale(14.500 -13.848)" fill="#ffaa00"/><text x="429.10" y="239.18" font-size="14.5" style="fill:#ffaa00">,</text><text x="438.00" y="239.18" font-size="14.5" style="fill:#ffaa00">0</text><text x="446.00" y="239.18" font-size="14.5" style="fill:#ffaa00">,</text><text x="454.90" y="239.18" font-size="14.5" style="fill:#ffaa00">0</text><text transform="translate(463.60 238.28) scale(0.85 1)" font-size="13" class="r" style="fill:#ffaa00;stroke:#ffaa00;stroke-width:0.35">}</text></g>
</g>
</svg>
</body></html>
